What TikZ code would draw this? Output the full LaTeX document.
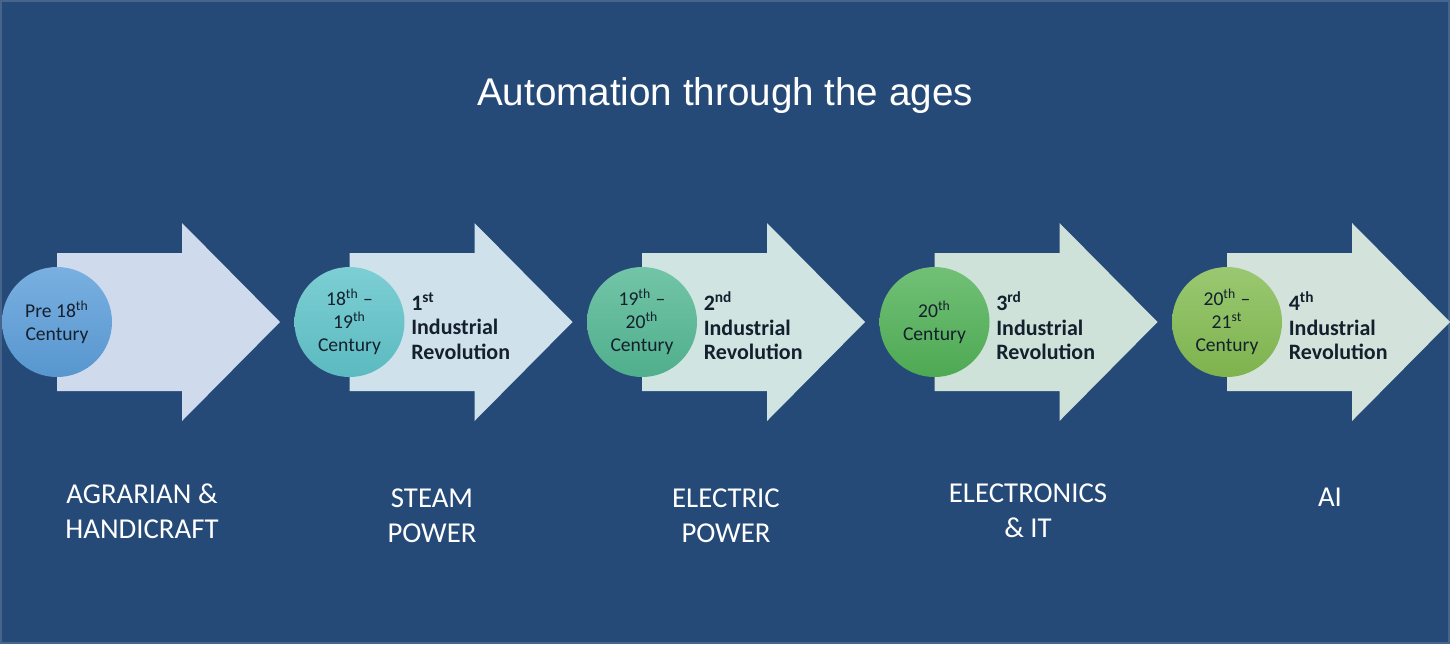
\documentclass[tikz,border=0pt]{standalone}
\usepackage{fontspec}
\setmainfont{Carlito}
\newfontfamily\headfont{Liberation Sans}
\usetikzlibrary{positioning}
\definecolor{bgblue}{RGB}{38,74,120}
\definecolor{edgeblue}{RGB}{70,100,140}
\definecolor{darktext}{RGB}{20,32,45}
% circle colours
\definecolor{cone}{RGB}{92,158,218}
\definecolor{ctwo}{RGB}{96,196,202}
\definecolor{cthree}{RGB}{84,184,148}
\definecolor{cfour}{RGB}{82,178,88}
\definecolor{cfive}{RGB}{132,188,82}
% arrow colours
\definecolor{aone}{RGB}{207,219,236}
\definecolor{atwo}{RGB}{207,226,236}
\definecolor{athree}{RGB}{208,229,226}
\definecolor{afour}{RGB}{206,226,218}
\definecolor{afive}{RGB}{211,226,218}
\tikzset{
    era/.style={
        circle,
        minimum size=55pt,
        inner sep=0pt,
        align=center,
        text=darktext,
        font=\fontsize{9.8}{11.5}\selectfont
    },
    revtext/.style={
        anchor=west,
        align=left,
        inner sep=0pt,
        text=darktext,
        font=\fontsize{11}{12.3}\selectfont\bfseries
    },
    agelabel/.style={
        anchor=north,
        align=center,
        inner sep=0pt,
        text=white,
        font=\fontsize{14.4}{17.6}\selectfont
    }
}

\begin{document}
\begin{tikzpicture}[x=0.5pt, y=-0.5pt]
    \useasboundingbox (0,0) rectangle (1450,644);
    % Background
    \fill[bgblue] (0,0) rectangle (1450,644);
    \draw[edgeblue, line width=1pt] (1,1) rectangle (1449,643);

    % Title
    \node[anchor=base, text=white, font=\headfont\fontsize{19.3}{23}\selectfont]
        (title) at (725,105) {Automation through the ages};

    % Arrows with era circles
    \foreach \i/\ccol/\acol/\dates/\rev in {
        0/cone/aone/{Pre 18\textsuperscript{th}\\Century}/{},
        1/ctwo/atwo/{18\textsuperscript{th} --\\19\textsuperscript{th}\\Century}/{1\textsuperscript{st}\\Industrial\\Revolution},
        2/cthree/athree/{19\textsuperscript{th} --\\20\textsuperscript{th}\\Century}/{2\textsuperscript{nd}\\Industrial\\Revolution},
        3/cfour/afour/{20\textsuperscript{th}\\Century}/{3\textsuperscript{rd}\\Industrial\\Revolution},
        4/cfive/afive/{20\textsuperscript{th} --\\21\textsuperscript{st}\\Century}/{4\textsuperscript{th}\\Industrial\\Revolution}%
    } {
        \pgfmathsetmacro{\cx}{57+292.5*\i}
        \fill[\acol] (\cx,253) -- ++(125,0) -- ++(0,-30) -- ++(98,99)
            -- ++(-98,99) -- ++(0,-30) -- ++(-125,0) -- cycle;
        \node[era, top color=\ccol!82!white, bottom color=\ccol!95!black]
            (era\i) at (\cx,322) {\dates};
        \node[revtext, right=3pt of era\i, yshift=-2pt] (rev\i) {\rev};
    }

    % Labels below
    \foreach \n/\x/\y/\txt in {
        1/142/483/{AGRARIAN \&\\HANDICRAFT},
        2/432/488/{STEAM\\POWER},
        3/726/488/{ELECTRIC\\POWER},
        4/1028/483/{ELECTRONICS\\\& IT},
        5/1330/488/{AI}%
    } {
        \node[agelabel] (age\n) at (\x,\y) {\txt};
    }
\end{tikzpicture}
\end{document}
